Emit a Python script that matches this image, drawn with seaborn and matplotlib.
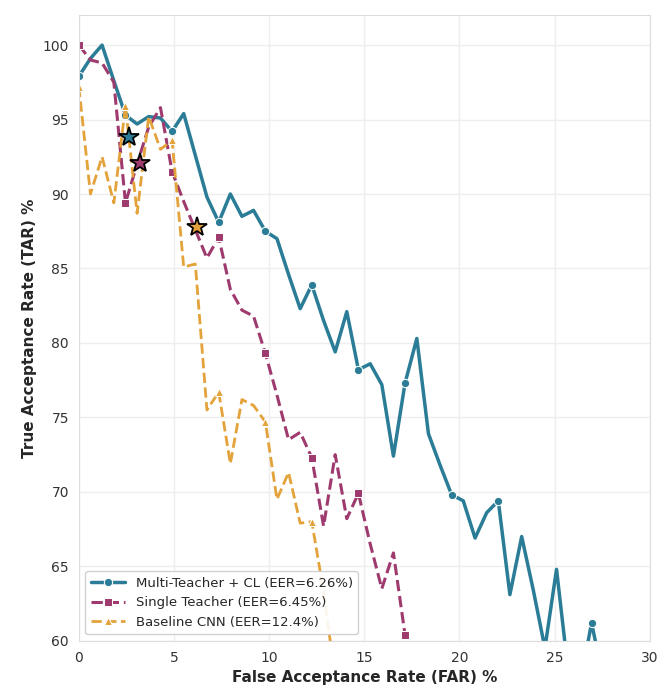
import numpy as np
import pandas as pd
import seaborn as sns
import matplotlib.pyplot as plt

# FAR thresholds (%) shared by all three curves
far = [0.00, 0.61, 1.22, 1.84, 2.45, 3.06, 3.67, 4.29, 4.90, 5.51,
       6.12, 6.73, 7.35, 7.96, 8.57, 9.18, 9.80, 10.41, 11.02, 11.63,
       12.24, 12.86, 13.47, 14.08, 14.69, 15.31, 15.92, 16.53, 17.14, 17.76,
       18.37, 18.98, 19.59, 20.20, 20.82, 21.43, 22.04, 22.65, 23.27, 23.88,
       24.49, 25.10, 25.71, 26.33, 26.94, 27.55]

# TAR (%)
tar_multi = [97.9, 99.1, 100.0, 97.6, 95.3, 94.7, 95.2, 95.1, 94.2, 95.4,
             92.6, 89.8, 88.1, 90.0, 88.5, 88.9, 87.5, 87.0, 84.6, 82.3,
             83.9, 81.5, 79.4, 82.1, 78.2, 78.6, 77.2, 72.4, 77.3, 80.3,
             73.9, 71.8, 69.8, 69.4, 66.9, 68.6, 69.4, 63.1, 67.0, 63.4,
             59.5, 64.8, 58.0, 57.0, 61.2, 57.5]

tar_single = [100.0, 99.0, 98.8, 97.5, 89.4, 92.0, 94.5, 95.8, 91.5, 89.5,
              87.6, 85.7, 87.1, 83.6, 82.2, 81.8, 79.3, 76.5, 73.5, 74.0,
              72.3, 67.7, 72.5, 68.2, 69.9, 66.5, 63.5, 65.9, 60.4, 57.0]

tar_base = [97.2, 90.0, 92.5, 89.4, 95.9, 88.7, 95.2, 93.0, 93.6, 85.1,
            85.3, 75.5, 76.7, 71.9, 76.2, 75.8, 74.7, 69.5, 71.3, 67.9,
            68.0, 63.3, 57.5]

labels = ["Multi-Teacher + CL (EER=6.26%)",
          "Single Teacher (EER=6.45%)",
          "Baseline CNN (EER=12.4%)"]

# EER operating points (stars)
eer_far = [2.63, 3.20, 6.20]
eer_tar = [93.8, 92.1, 87.8]

colors = ["#2B7C96", "#9E3A6E", "#E3A23A"]

sns.set_style("whitegrid")
fig, ax = plt.subplots(figsize=(6.57, 6.95), dpi=100)
fig.subplots_adjust(left=0.12, right=0.989, top=0.978, bottom=0.078)

sns.lineplot(x=far[:len(tar_multi)], y=tar_multi, ax=ax, color=colors[0],
             linewidth=2.5, marker="o", markersize=6, markevery=4,
             label=labels[0])
sns.lineplot(x=far[:len(tar_single)], y=tar_single, ax=ax, color=colors[1],
             linewidth=2.2, linestyle="--", marker="s", markersize=6,
             markevery=4, label=labels[1])
sns.lineplot(x=far[:len(tar_base)], y=tar_base, ax=ax, color=colors[2],
             linewidth=2.0, linestyle="--", marker="^", markersize=6,
             markevery=4, label=labels[2])

for fx, ty, c in zip(eer_far, eer_tar, colors):
    ax.plot(fx, ty, marker="*", markersize=15, color=c,
            markeredgecolor="black", markeredgewidth=1.3, zorder=5)

ax.set_xlim(0, 30)
ax.set_ylim(60, 102)
ax.set_xticks([0, 5, 10, 15, 20, 25, 30])
ax.set_yticks([60, 65, 70, 75, 80, 85, 90, 95, 100])
ax.tick_params(labelsize=10, colors="#333333")
ax.set_xlabel("False Acceptance Rate (FAR) %", fontsize=11, fontweight="bold")
ax.set_ylabel("True Acceptance Rate (TAR) %", fontsize=11, fontweight="bold")
ax.grid(True, color="#eeeeee", linewidth=1.0)
for s in ax.spines.values():
    s.set_color("#dddddd")

ax.legend(loc="lower left", fontsize=9.5, frameon=True, framealpha=0.9,
          edgecolor="#cccccc", handlelength=2.6)

plt.savefig("out.png", dpi=100)
